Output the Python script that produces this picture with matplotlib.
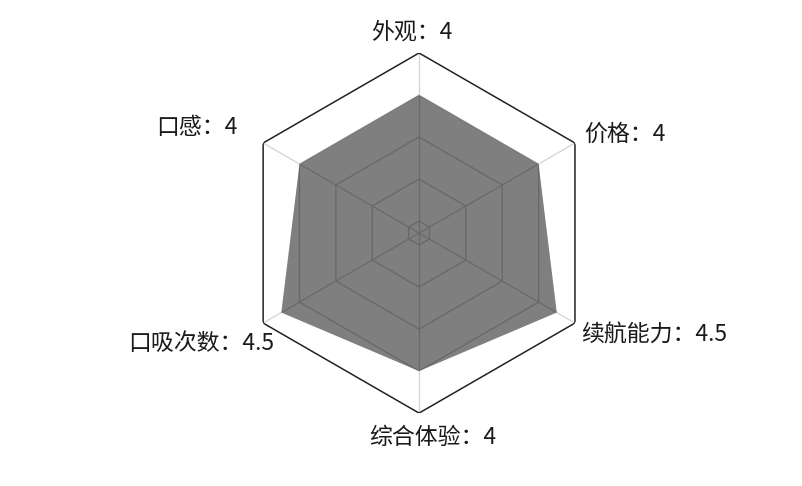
import numpy as np
import matplotlib.pyplot as plt
from matplotlib import transforms

plt.rcParams['font.family'] = ['Noto Sans CJK SC', 'DejaVu Sans']

labels = ["外观", "价格", "续航能力", "综合体验", "口吸次数", "口感"]
values = [4, 4, 4.5, 4, 4.5, 4]
levels = [1, 2, 3, 4, 5]
rmin = 0.714
rmax = 5

# label offsets from each outer vertex, in pixels
offsets = [(-7, 21), (9, 9), (6, -12), (14, -24), (11, -20), (-26, 16)]
aligns = ["center", "left", "left", "center", "right", "right"]

n = len(labels)
angles = np.linspace(0, 2 * np.pi, n, endpoint=False)
closed = np.append(angles, angles[0])

fig = plt.figure(figsize=(8.02, 4.86), dpi=100)
ax = fig.add_axes([0.298, 0.150, 0.449, 0.741], polar=True)
ax.set_theta_offset(np.pi / 2)
ax.set_theta_direction(-1)
ax.set_ylim(rmin, rmax)
ax.grid(False)
ax.spines['polar'].set_visible(False)
ax.set_xticks([])
ax.set_yticks([])
ax.patch.set_alpha(0)

# hexagon grid
for lv in levels[:-1]:
    ax.plot(closed, [lv] * (n + 1), color="#cfcfcf", lw=0.9, zorder=1)
for a in angles:
    ax.plot([a, a], [rmin, rmax], color="#d4d4d4", lw=0.9, zorder=1)

vals = values + values[:1]
ax.fill(closed, vals, color="black", alpha=0.5, lw=0, zorder=2)

ax.plot(closed, [rmax] * (n + 1), color="#222222", lw=1.1, zorder=3)

for a, lab, v, off, ha in zip(angles, labels, values, offsets, aligns):
    tr = transforms.offset_copy(ax.transData, fig=fig, x=off[0], y=off[1], units='dots')
    ax.text(a, rmax, f"{lab}：{v:g}", transform=tr, ha=ha, va="center",
            fontsize=16.5, color="#1a1a1a")

fig.savefig("out.png", dpi=100)
